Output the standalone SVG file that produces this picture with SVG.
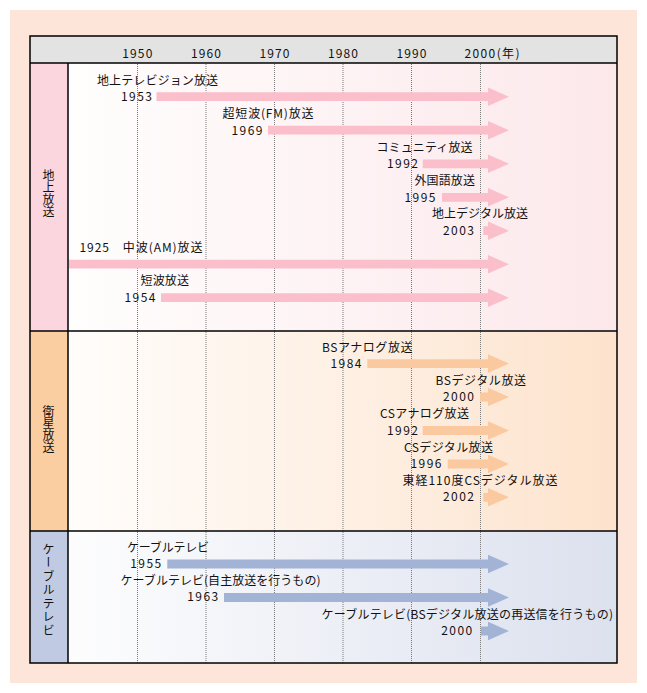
<svg xmlns="http://www.w3.org/2000/svg" width="647" height="693" viewBox="0 0 647 693">
<defs>
<linearGradient id="g1" x1="68" y1="0" x2="617" y2="0" gradientUnits="userSpaceOnUse"><stop offset="0" stop-color="#FFFDFD"/><stop offset="1" stop-color="#FCE8EB"/></linearGradient>
<linearGradient id="g2" x1="68" y1="0" x2="617" y2="0" gradientUnits="userSpaceOnUse"><stop offset="0" stop-color="#FFFDFB"/><stop offset="1" stop-color="#FDE3CD"/></linearGradient>
<linearGradient id="g3" x1="68" y1="0" x2="617" y2="0" gradientUnits="userSpaceOnUse"><stop offset="0" stop-color="#FDFDFE"/><stop offset="1" stop-color="#DCE1EE"/></linearGradient>
</defs>
<style>
text{font-family:"Noto Sans CJK JP","Noto Sans",sans-serif;font-size:12px;fill:#111;}
.e{text-anchor:end;}
.m{text-anchor:middle;}
.v{writing-mode:vertical-rl;text-anchor:middle;}
.grid{stroke:#7a7a7a;stroke-width:1;stroke-dasharray:1 1;}
.bd{stroke:#000;stroke-width:1.5;fill:none;}
.ap{fill:#FBBFCB;}
.ao{fill:#FBC9A0;}
.ab{fill:#A2B3D6;}
</style>
<rect x="10" y="10" width="627" height="673" fill="#FEE5DA"/>
<g id="header">
<rect x="30" y="36" width="587" height="27" fill="#E3E3E3"/>
<text x="137.3" y="57.7" class="m" textLength="30">1950</text>
<text x="206" y="57.7" class="m" textLength="30">1960</text>
<text x="274.5" y="57.7" class="m" textLength="30">1970</text>
<text x="343" y="57.7" class="m" textLength="30">1980</text>
<text x="411.5" y="57.7" class="m" textLength="30">1990</text>
<text x="464.5" y="57.7" textLength="55">2000(年)</text>
</g>
<g id="sections">
<rect x="30" y="63" width="38" height="268" fill="#FCD6DF"/>
<rect x="68" y="63" width="549" height="268" fill="url(#g1)"/>
<rect x="30" y="331" width="38" height="200" fill="#FBCEA1"/>
<rect x="68" y="331" width="549" height="200" fill="url(#g2)"/>
<rect x="30" y="531" width="38" height="132" fill="#C0CAE2"/>
<rect x="68" y="531" width="549" height="132" fill="url(#g3)"/>
<text id="label-chijo" class="v" x="48.5" y="193.5">地上放送</text>
<text id="label-eisei" class="v" x="48.5" y="429">衛星放送</text>
<text id="label-cable" class="v" x="48.5" y="590.5" style="letter-spacing:1.5px">ケーブルテレビ</text>
</g>
<g id="grid">
<line class="grid" x1="137.5" y1="64" x2="137.5" y2="663"/>
<line class="grid" x1="206" y1="64" x2="206" y2="663"/>
<line class="grid" x1="274.5" y1="64" x2="274.5" y2="663"/>
<line class="grid" x1="343" y1="64" x2="343" y2="663"/>
<line class="grid" x1="411.5" y1="64" x2="411.5" y2="663"/>
<line class="grid" x1="480.5" y1="64" x2="480.5" y2="663"/>
</g>
<g id="connectors">
<polygon class="ap" points="156.5,92.3 488,92.3 488,87.4 509,96.7 488,106 488,101.1 156.5,101.1"/>
<polygon class="ap" points="268,125.8 488,125.8 488,120.9 509,130.2 488,139.5 488,134.6 268,134.6"/>
<polygon class="ap" points="422.7,159.4 488,159.4 488,154.5 509,163.8 488,173.1 488,168.2 422.7,168.2"/>
<polygon class="ap" points="442,192.9 488,192.9 488,188 509,197.3 488,206.6 488,201.7 442,201.7"/>
<polygon class="ap" points="483.3,226.3 488,226.3 488,221.4 509,230.7 488,240 488,235.1 483.3,235.1"/>
<polygon class="ap" points="68.8,259.8 488,259.8 488,254.9 509,264.2 488,273.5 488,268.6 68.8,268.6"/>
<polygon class="ap" points="161,293.3 488,293.3 488,288.4 509,297.7 488,307 488,302.1 161,302.1"/>
<polygon class="ao" points="367.3,359.2 488,359.2 488,354.3 509,363.6 488,372.9 488,368 367.3,368"/>
<polygon class="ao" points="480,392.6 488,392.6 488,387.7 509,397 488,406.3 488,401.4 480,401.4"/>
<polygon class="ao" points="422.7,426.1 488,426.1 488,421.2 509,430.5 488,439.8 488,434.9 422.7,434.9"/>
<polygon class="ao" points="447.7,459.6 488,459.6 488,454.7 509,464 488,473.3 488,468.4 447.7,468.4"/>
<polygon class="ao" points="483.3,492.9 488,492.9 488,488 509,497.3 488,506.6 488,501.7 483.3,501.7"/>
<polygon class="ab" points="167.3,559.6 488,559.6 488,554.7 509,564 488,573.3 488,568.4 167.3,568.4"/>
<polygon class="ab" points="224,593.1 488,593.1 488,588.2 509,597.5 488,606.8 488,601.9 224,601.9"/>
<polygon class="ab" points="481,626.6 488,626.6 488,621.7 509,631 488,640.3 488,635.4 481,635.4"/>
</g>
<g id="frame">
<rect class="bd" x="30" y="36" width="587" height="627"/>
<line class="bd" x1="30" y1="63" x2="617" y2="63"/>
<line class="bd" x1="30" y1="331" x2="617" y2="331"/>
<line class="bd" x1="30" y1="531" x2="617" y2="531"/>
<line class="bd" x1="68" y1="63" x2="68" y2="663"/>
</g>
<g id="item-tv"><text x="97" y="84.9" textLength="121">地上テレビジョン放送</text><text class="e" x="152" y="101.1" textLength="31">1953</text></g>
<g id="item-fm"><text x="222.5" y="118.4" textLength="91">超短波(FM)放送</text><text class="e" x="262.5" y="134.6" textLength="31">1969</text></g>
<g id="item-community"><text x="376.5" y="151.7" textLength="96">コミュニティ放送</text><text class="e" x="418" y="168.2" textLength="31">1992</text></g>
<g id="item-foreign"><text x="414.5" y="184.9" textLength="60.5">外国語放送</text><text class="e" x="435.5" y="201.7" textLength="31">1995</text></g>
<g id="item-dtv"><text x="432" y="218.2" textLength="96">地上デジタル放送</text><text class="e" x="474" y="235.1" textLength="31">2003</text></g>
<g id="item-am"><text x="79.5" y="251.9" textLength="123">1925　中波(AM)放送</text></g>
<g id="item-sw"><text x="140.5" y="285.2" textLength="48.5">短波放送</text><text class="e" x="155.5" y="302.1" textLength="31">1954</text></g>
<g id="item-bsa"><text x="322" y="351.7" textLength="90.5">BSアナログ放送</text><text class="e" x="361.5" y="367.9" textLength="31">1984</text></g>
<g id="item-bsd"><text x="435.5" y="385.1" textLength="90.5">BSデジタル放送</text><text class="e" x="474" y="401.4" textLength="31">2000</text></g>
<g id="item-csa"><text x="380" y="417.9" textLength="89">CSアナログ放送</text><text class="e" x="418" y="434.7" textLength="31">1992</text></g>
<g id="item-csd"><text x="404" y="451.6" textLength="89">CSデジタル放送</text><text class="e" x="441.5" y="467.9" textLength="31">1996</text></g>
<g id="item-cs110"><text x="402.5" y="485.1" textLength="155">東経110度CSデジタル放送</text><text class="e" x="474" y="501.4" textLength="31">2002</text></g>
<g id="item-catv"><text x="127" y="552.2" textLength="82">ケーブルテレビ</text><text class="e" x="161.2" y="567.9" textLength="31">1955</text></g>
<g id="item-catv-own"><text x="120.5" y="585.2" textLength="200">ケーブルテレビ(自主放送を行うもの)</text><text class="e" x="218.2" y="601.4" textLength="31">1963</text></g>
<g id="item-catv-bs"><text x="321.5" y="618.9" textLength="291.5">ケーブルテレビ(BSデジタル放送の再送信を行うもの)</text><text class="e" x="472.2" y="635.4" textLength="31">2000</text></g>
</svg>
